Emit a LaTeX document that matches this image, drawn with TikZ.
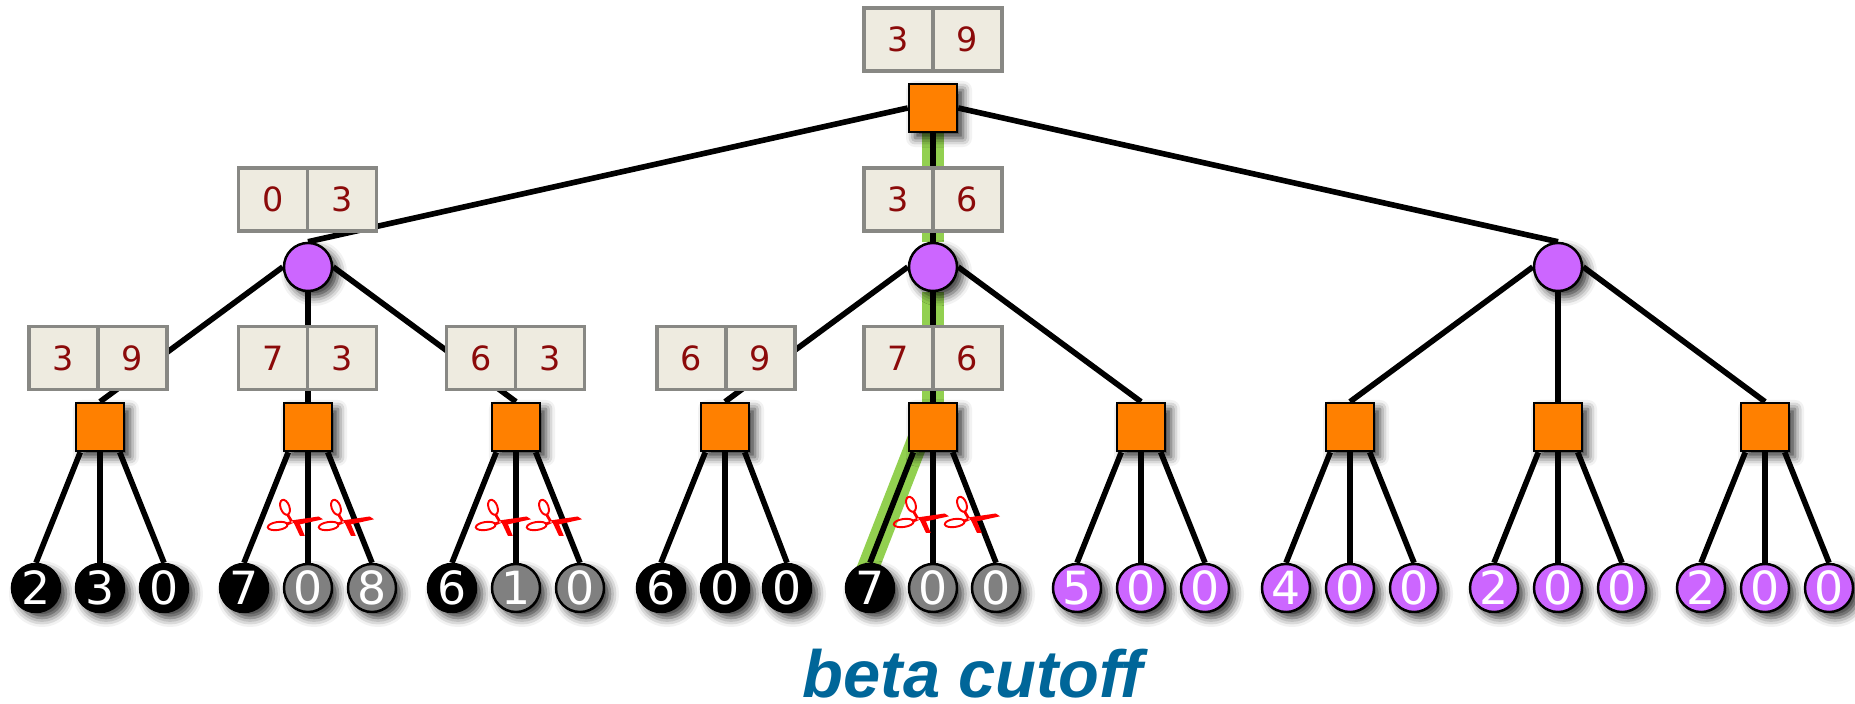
\documentclass[tikz,border=0pt]{standalone}
\usepackage{fontspec}
\setmainfont{DejaVu Sans}
\newfontfamily\titlefont[Ligatures=NoCommon]{Liberation Sans}
\usetikzlibrary{shadows.blur,backgrounds}
\definecolor{gameorange}{HTML}{FF8000}
\definecolor{gamepurple}{HTML}{CC66FF}
\definecolor{gamegray}{HTML}{808080}
\definecolor{gamegreen}{HTML}{92D050}
\definecolor{cellfill}{HTML}{EEEBE0}
\definecolor{cellline}{HTML}{888884}
\definecolor{celltext}{HTML}{8B0A0A}
\definecolor{titleblue}{HTML}{006699}
\tikzset{
  softshadow/.style={blur shadow={shadow xshift=0.06cm,shadow yshift=-0.06cm,shadow blur radius=0.09cm,shadow opacity=80}},
  sqnode/.style={draw=black,line width=0.7pt,fill=gameorange,minimum size=0.48cm,inner sep=0pt,softshadow},
  cirnode/.style={circle,draw=black,line width=0.7pt,fill=gamepurple,minimum size=0.48cm,inner sep=0pt,softshadow},
  leafnode/.style={circle,draw=black,line width=0.7pt,minimum size=0.48cm,inner sep=0pt,text=white,font=\fontsize{13}{13}\selectfont,softshadow},
  leafblack/.style={leafnode,fill=black},
  leafgray/.style={leafnode,fill=gamegray},
  leafpurple/.style={leafnode,fill=gamepurple},
  cell/.style={draw=cellline,line width=0.9pt,fill=cellfill,minimum width=0.69cm,minimum height=0.63cm,inner sep=0pt,text=celltext,font=\fontsize{9.5}{9.5}\selectfont},
  link/.style={draw=black,line width=1.6pt},
  bestlink/.style={draw=gamegreen,line width=6.2pt},
  snip/.pic={
    \draw [red,line width=0.55pt] (-7,14.7) ellipse [x radius=4.4,y radius=7.8,rotate=20];
    \draw [red,line width=0.55pt] (-14.3,-4) ellipse [x radius=10,y radius=4,rotate=8];
    \draw [red,line width=0.8pt] (-4.5,7.5) -- (0,0) -- (-6,-2.5);
    \fill [red] (-1,1.5) -- (26.7,5.5) -- (31,2.7) -- (5,-3) -- cycle;
    \fill [red] (1.7,-0.7) -- (7,0) -- (12.8,-14) -- (8,-14) -- cycle;
    \fill [white] (0,0) circle (0.9);
  }
}
\begin{document}
\begin{tikzpicture}[x=0.01cm,y=0.01cm]
\useasboundingbox (0,0) rectangle (1855,-704);
\node [sqnode] (root) at (933,-108) {};
\node [cirnode] (c1) at (308,-267) {};
\node [cirnode] (c2) at (933,-267) {};
\node [cirnode] (c3) at (1558,-267) {};
\node [sqnode] (s1) at (100,-427) {};
\node [sqnode] (s2) at (308,-427) {};
\node [sqnode] (s3) at (516,-427) {};
\node [sqnode] (s4) at (725,-427) {};
\node [sqnode] (s5) at (933,-427) {};
\node [sqnode] (s6) at (1141,-427) {};
\node [sqnode] (s7) at (1350,-427) {};
\node [sqnode] (s8) at (1558,-427) {};
\node [sqnode] (s9) at (1765,-427) {};
\node [leafblack] (l1a) at (36,-588) {2};
\node [leafblack] (l1b) at (100,-588) {3};
\node [leafblack] (l1c) at (164,-588) {0};
\node [leafblack] (l2a) at (244,-588) {7};
\node [leafgray] (l2b) at (308,-588) {0};
\node [leafgray] (l2c) at (372,-588) {8};
\node [leafblack] (l3a) at (452,-588) {6};
\node [leafgray] (l3b) at (516,-588) {1};
\node [leafgray] (l3c) at (580,-588) {0};
\node [leafblack] (l4a) at (661,-588) {6};
\node [leafblack] (l4b) at (725,-588) {0};
\node [leafblack] (l4c) at (787,-588) {0};
\node [leafblack] (l5a) at (870,-588) {7};
\node [leafgray] (l5b) at (933,-588) {0};
\node [leafgray] (l5c) at (996,-588) {0};
\node [leafpurple] (l6a) at (1077,-588) {5};
\node [leafpurple] (l6b) at (1141,-588) {0};
\node [leafpurple] (l6c) at (1205,-588) {0};
\node [leafpurple] (l7a) at (1286,-588) {4};
\node [leafpurple] (l7b) at (1350,-588) {0};
\node [leafpurple] (l7c) at (1414,-588) {0};
\node [leafpurple] (l8a) at (1494,-588) {2};
\node [leafpurple] (l8b) at (1558,-588) {0};
\node [leafpurple] (l8c) at (1622,-588) {0};
\node [leafpurple] (l9a) at (1701,-588) {2};
\node [leafpurple] (l9b) at (1765,-588) {0};
\node [leafpurple] (l9c) at (1829,-588) {0};
\begin{scope}[on background layer]
\draw [bestlink] (root) -- (c2);
\draw [bestlink] (c2) -- (s5);
\draw [bestlink,shorten >=-0.1cm] ([xshift=-0.1cm]s5.center) -- (l5a.north);
\draw [link] (root.west) -- (c1.north);
\draw [link] (root) -- (c2);
\draw [link] (root.east) -- (c3.north);
\draw [link] (c1.west) -- (s1.north);
\draw [link] (c1) -- (s2);
\draw [link] (c1.east) -- (s3.north);
\draw [link] (c2.west) -- (s4.north);
\draw [link] (c2) -- (s5);
\draw [link] (c2.east) -- (s6.north);
\draw [link] (c3.west) -- (s7.north);
\draw [link] (c3) -- (s8);
\draw [link] (c3.east) -- (s9.north);
\draw [link] (s1.232) -- (l1a.north);
\draw [link] (s1) -- (l1b);
\draw [link] (s1.308) -- (l1c.north);
\draw [link] (s2.232) -- (l2a.north);
\draw [link] (s2) -- (l2b);
\draw [link] (s2.308) -- (l2c.north);
\draw [link] (s3.232) -- (l3a.north);
\draw [link] (s3) -- (l3b);
\draw [link] (s3.308) -- (l3c.north);
\draw [link] (s4.232) -- (l4a.north);
\draw [link] (s4) -- (l4b);
\draw [link] (s4.308) -- (l4c.north);
\draw [link] (s5.232) -- (l5a.north);
\draw [link] (s5) -- (l5b);
\draw [link] (s5.308) -- (l5c.north);
\draw [link] (s6.232) -- (l6a.north);
\draw [link] (s6) -- (l6b);
\draw [link] (s6.308) -- (l6c.north);
\draw [link] (s7.232) -- (l7a.north);
\draw [link] (s7) -- (l7b);
\draw [link] (s7.308) -- (l7c.north);
\draw [link] (s8.232) -- (l8a.north);
\draw [link] (s8) -- (l8b);
\draw [link] (s8.308) -- (l8c.north);
\draw [link] (s9.232) -- (l9a.north);
\draw [link] (s9) -- (l9b);
\draw [link] (s9.308) -- (l9c.north);
\end{scope}
\pic at (292,-522) {snip};
\pic at (343,-522) {snip};
\pic at (500,-522) {snip};
\pic at (551,-522) {snip};
\pic at (918,-519) {snip};
\pic at (969,-519) {snip};
\node [cell] (v0a) at (898.5,-39.5) {3};
\node [cell] (v0b) at (967.5,-39.5) {9};
\node [cell] (v1a) at (273,-199.5) {0};
\node [cell] (v1b) at (342,-199.5) {3};
\node [cell] (v2a) at (898.5,-199.5) {3};
\node [cell] (v2b) at (967.5,-199.5) {6};
\node [cell] (v3a) at (63.5,-358) {3};
\node [cell] (v3b) at (132.5,-358) {9};
\node [cell] (v4a) at (273,-358) {7};
\node [cell] (v4b) at (342,-358) {3};
\node [cell] (v5a) at (481,-358) {6};
\node [cell] (v5b) at (550,-358) {3};
\node [cell] (v6a) at (691.5,-358) {6};
\node [cell] (v6b) at (760.5,-358) {9};
\node [cell] (v7a) at (898.5,-358) {7};
\node [cell] (v7b) at (967.5,-358) {6};
\node [font=\titlefont\bfseries\itshape\fontsize{19}{19}\selectfont,text=titleblue,anchor=base,inner sep=0pt] (title) at (973,-697) {beta cutoff};
\end{tikzpicture}
\end{document}
